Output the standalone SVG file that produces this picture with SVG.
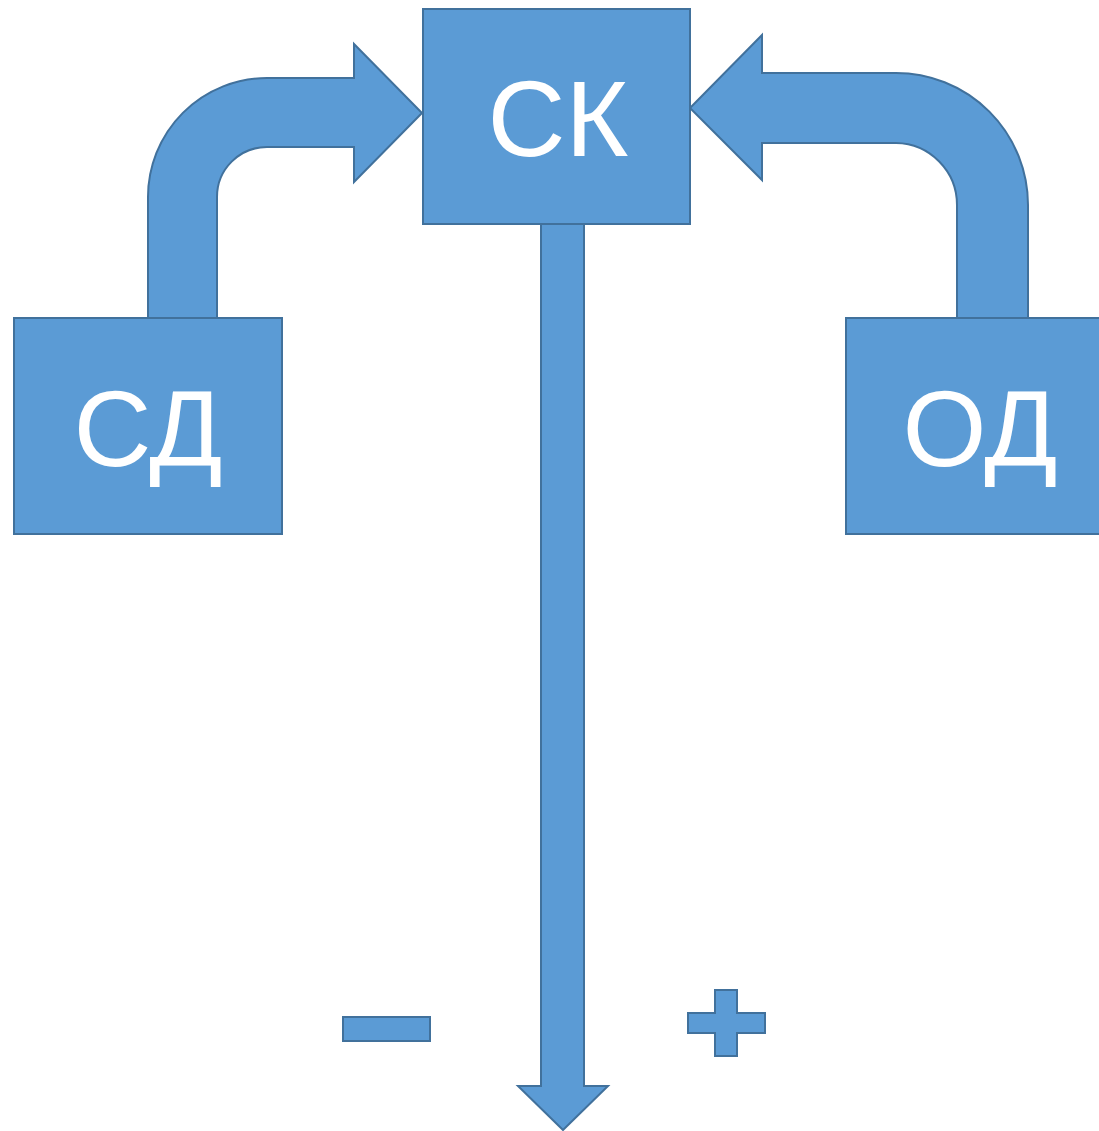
<svg xmlns="http://www.w3.org/2000/svg" width="1099" height="1131" viewBox="0 0 1099 1131">
  <style>
    .shape { fill: #5B9BD5; stroke: #41719C; stroke-width: 2; stroke-linejoin: miter; }
    .label { fill: #FFFFFF; font-family: "Liberation Sans", Arial, sans-serif; font-size: 108px; text-anchor: middle; }
  </style>
  <rect width="1099" height="1131" fill="#FFFFFF"/>

  <!-- connectors: bent block arrows into СК, block arrow down from СК -->
  <g id="connectors">
    <path id="arrow-sd-sk" class="shape"
      d="M148,318 L148,197 A119,119 0 0 1 267,78 L354,78 L354,44 L422,113 L354,182 L354,147 L267,147 A50,50 0 0 0 217,197 L217,318 Z"/>
    <path id="arrow-od-sk" class="shape"
      d="M1028,318 L1028,205 A132,132 0 0 0 896,73 L762,73 L762,35 L690,108 L762,180 L762,143 L896,143 A62,62 0 0 1 957,205 L957,318 Z"/>
    <path id="arrow-sk-down" class="shape"
      d="M541,224 L584,224 L584,1086 L608,1086 L563,1130 L518,1086 L541,1086 Z"/>
  </g>

  <g id="node-sk">
    <rect class="shape" x="423" y="9" width="267" height="215"/>
    <text class="label" x="558" y="156">СК</text>
  </g>

  <g id="node-sd">
    <rect class="shape" x="14" y="318" width="268" height="216"/>
    <text class="label" x="148" y="466">СД</text>
  </g>

  <g id="node-od">
    <rect class="shape" x="846" y="318" width="268" height="216"/>
    <text class="label" x="980" y="466">ОД</text>
  </g>

  <g id="sign-minus">
    <rect class="shape" x="343" y="1017" width="87" height="24"/>
  </g>

  <g id="sign-plus">
    <path class="shape" d="M715,990 L737,990 L737,1013 L765,1013 L765,1033 L737,1033 L737,1056 L715,1056 L715,1033 L688,1033 L688,1013 L715,1013 Z"/>
  </g>
</svg>
